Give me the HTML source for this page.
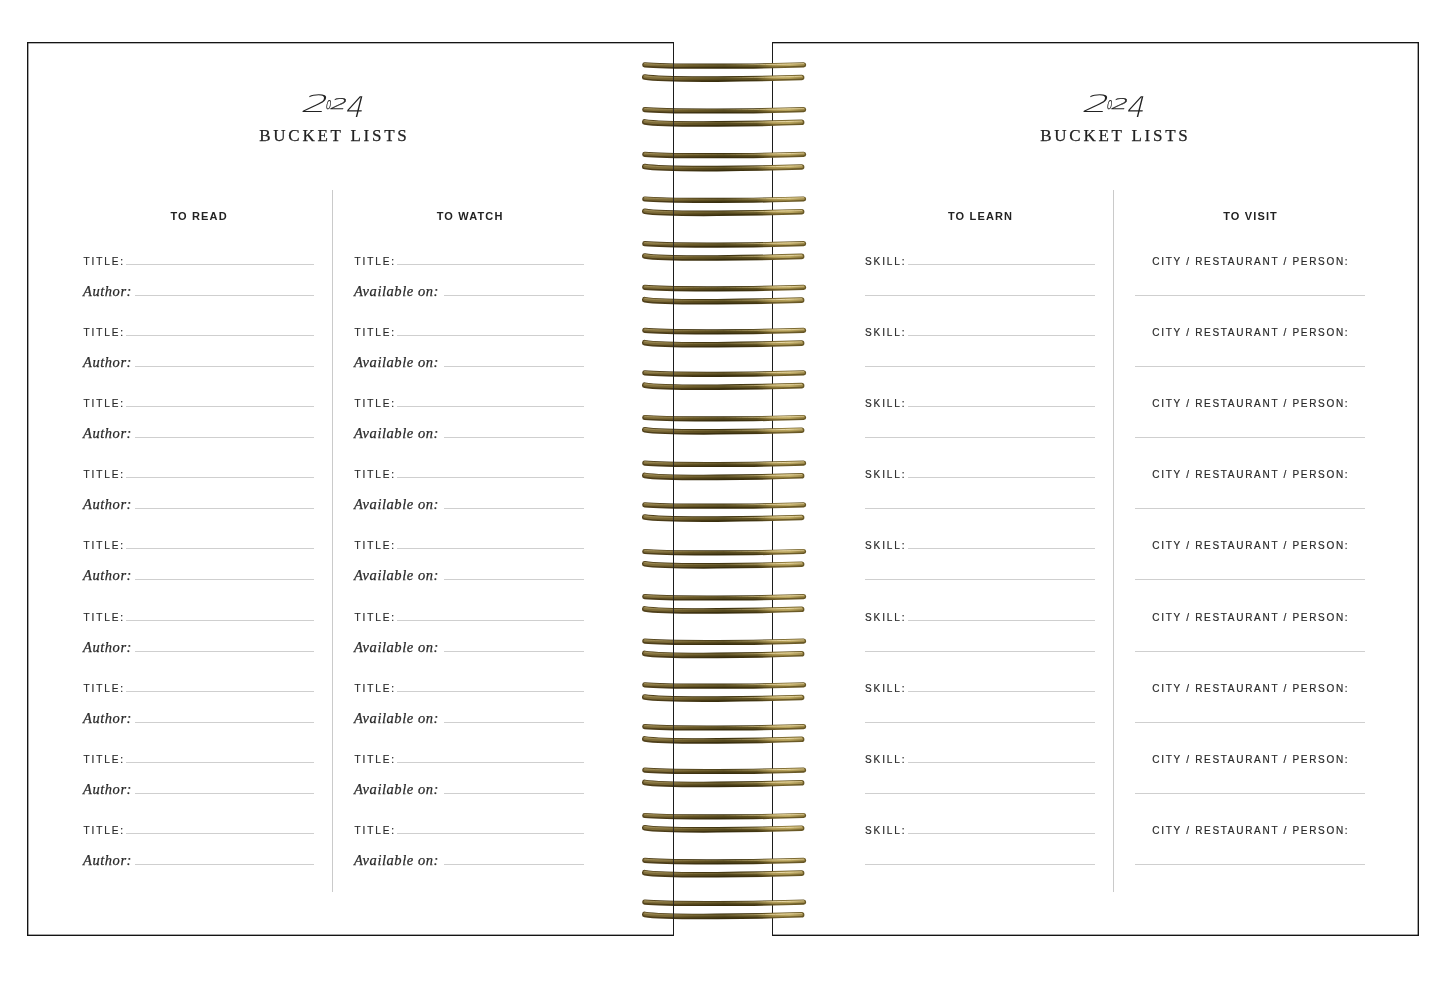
<!DOCTYPE html>
<html><head><meta charset="utf-8"><title>2024 Bucket Lists</title>
<style>
html,body{margin:0;padding:0;background:#fff;}
body{width:1445px;height:1006px;position:relative;overflow:hidden;}
.page{position:absolute;top:42px;width:645px;height:892px;border:1px solid #141414;box-sizing:content-box;}
.rings{position:absolute;left:0;top:0;}
.vl{position:absolute;width:1px;background:#1c1c1c;}
.yr{position:absolute;left:0;top:0;}
.yg{position:absolute;display:block;font-family:"DejaVu Sans",sans-serif;font-weight:200;line-height:1;color:#222;transform-origin:0 0;white-space:nowrap;}
.bl{position:absolute;top:124px;width:200px;text-align:center;font-family:"Liberation Serif",serif;font-size:17px;line-height:24px;color:#222;-webkit-text-stroke:0.25px #222;letter-spacing:2.75px;text-indent:2.75px;}
.ch{position:absolute;top:208px;width:200px;text-align:center;font-family:"Liberation Sans",sans-serif;font-weight:bold;font-size:11px;line-height:16px;color:#222;letter-spacing:1.15px;text-indent:1.15px;}
.lb{position:absolute;font-family:"Liberation Sans",sans-serif;font-size:10px;line-height:14px;color:#2a2a2a;-webkit-text-stroke:0.2px #2a2a2a;letter-spacing:1.9px;white-space:nowrap;}
.lb.c{width:300px;text-align:center;text-indent:1.7px;letter-spacing:1.7px;}
.it{position:absolute;font-family:"Liberation Serif",serif;font-style:italic;font-size:14.5px;line-height:18px;color:#2a2a2a;letter-spacing:0.55px;-webkit-text-stroke:0.25px #2a2a2a;white-space:nowrap;}
.ln{position:absolute;height:1px;background:#cfcfcf;}
.dv{position:absolute;top:190px;height:702px;width:1px;background:#cacaca;}
</style></head>
<body>
<div class="page" style="left:27px;box-shadow:inset 1px 0 0 rgba(0,0,0,.35),inset 0 1px 0 rgba(0,0,0,.3),inset 0 -1px 0 rgba(0,0,0,.35)"></div>
<div class="page" style="left:772px;box-shadow:inset -1px 0 0 rgba(0,0,0,.35),inset 0 1px 0 rgba(0,0,0,.3),inset 0 -1px 0 rgba(0,0,0,.35)"></div>
<div class="yr"><span class="yg" style="left:308.0px;top:92.0px;font-size:24px;transform:scale(1.714,1.0) skewX(-14deg)">2</span><span class="yg" style="left:327.4px;top:98.6px;font-size:12px;transform:scale(0.7,0.98) skewX(-14deg);-webkit-text-stroke:0.35px #222">0</span><span class="yg" style="left:334.3px;top:96.8px;font-size:15px;transform:scale(1.75,0.98) skewX(-14deg);-webkit-text-stroke:0.3px #222">2</span><span class="yg" style="left:350.4px;top:93.8px;font-size:22px;transform:scale(1.3,1.3) skewX(-14deg)">4</span></div>
<div class="bl" style="left:233px">BUCKET LISTS</div>
<div class="yr"><span class="yg" style="left:1089.0px;top:92.0px;font-size:24px;transform:scale(1.714,1.0) skewX(-14deg)">2</span><span class="yg" style="left:1108.4px;top:98.6px;font-size:12px;transform:scale(0.7,0.98) skewX(-14deg);-webkit-text-stroke:0.35px #222">0</span><span class="yg" style="left:1115.3px;top:96.8px;font-size:15px;transform:scale(1.75,0.98) skewX(-14deg);-webkit-text-stroke:0.3px #222">2</span><span class="yg" style="left:1131.4px;top:93.8px;font-size:22px;transform:scale(1.3,1.3) skewX(-14deg)">4</span></div>
<div class="bl" style="left:1014px">BUCKET LISTS</div>
<div class="dv" style="left:332px"></div>
<div class="dv" style="left:1113px"></div>
<div class="ch" style="left:98.5px">TO READ</div>
<div class="ch" style="left:369.5px">TO WATCH</div>
<div class="ch" style="left:880px">TO LEARN</div>
<div class="ch" style="left:1150px">TO VISIT</div>
<div class="lb" style="left:83.5px;top:255.0px">TITLE:</div>
<div class="ln" style="left:126px;top:264.0px;width:188px"></div>
<div class="it" style="left:83.0px;top:282.0px">Author:</div>
<div class="ln" style="left:135px;top:295.0px;width:179px"></div>
<div class="lb" style="left:83.5px;top:326.1px">TITLE:</div>
<div class="ln" style="left:126px;top:335.1px;width:188px"></div>
<div class="it" style="left:83.0px;top:353.1px">Author:</div>
<div class="ln" style="left:135px;top:366.1px;width:179px"></div>
<div class="lb" style="left:83.5px;top:397.2px">TITLE:</div>
<div class="ln" style="left:126px;top:406.2px;width:188px"></div>
<div class="it" style="left:83.0px;top:424.2px">Author:</div>
<div class="ln" style="left:135px;top:437.2px;width:179px"></div>
<div class="lb" style="left:83.5px;top:468.3px">TITLE:</div>
<div class="ln" style="left:126px;top:477.3px;width:188px"></div>
<div class="it" style="left:83.0px;top:495.3px">Author:</div>
<div class="ln" style="left:135px;top:508.3px;width:179px"></div>
<div class="lb" style="left:83.5px;top:539.4px">TITLE:</div>
<div class="ln" style="left:126px;top:548.4px;width:188px"></div>
<div class="it" style="left:83.0px;top:566.4px">Author:</div>
<div class="ln" style="left:135px;top:579.4px;width:179px"></div>
<div class="lb" style="left:83.5px;top:610.5px">TITLE:</div>
<div class="ln" style="left:126px;top:619.5px;width:188px"></div>
<div class="it" style="left:83.0px;top:637.5px">Author:</div>
<div class="ln" style="left:135px;top:650.5px;width:179px"></div>
<div class="lb" style="left:83.5px;top:681.6px">TITLE:</div>
<div class="ln" style="left:126px;top:690.6px;width:188px"></div>
<div class="it" style="left:83.0px;top:708.6px">Author:</div>
<div class="ln" style="left:135px;top:721.6px;width:179px"></div>
<div class="lb" style="left:83.5px;top:752.7px">TITLE:</div>
<div class="ln" style="left:126px;top:761.7px;width:188px"></div>
<div class="it" style="left:83.0px;top:779.7px">Author:</div>
<div class="ln" style="left:135px;top:792.7px;width:179px"></div>
<div class="lb" style="left:83.5px;top:823.8px">TITLE:</div>
<div class="ln" style="left:126px;top:832.8px;width:188px"></div>
<div class="it" style="left:83.0px;top:850.8px">Author:</div>
<div class="ln" style="left:135px;top:863.8px;width:179px"></div>
<div class="lb" style="left:354.5px;top:255.0px">TITLE:</div>
<div class="ln" style="left:397px;top:264.0px;width:187px"></div>
<div class="it" style="left:354.0px;top:282.0px">Available on:</div>
<div class="ln" style="left:444px;top:295.0px;width:140px"></div>
<div class="lb" style="left:354.5px;top:326.1px">TITLE:</div>
<div class="ln" style="left:397px;top:335.1px;width:187px"></div>
<div class="it" style="left:354.0px;top:353.1px">Available on:</div>
<div class="ln" style="left:444px;top:366.1px;width:140px"></div>
<div class="lb" style="left:354.5px;top:397.2px">TITLE:</div>
<div class="ln" style="left:397px;top:406.2px;width:187px"></div>
<div class="it" style="left:354.0px;top:424.2px">Available on:</div>
<div class="ln" style="left:444px;top:437.2px;width:140px"></div>
<div class="lb" style="left:354.5px;top:468.3px">TITLE:</div>
<div class="ln" style="left:397px;top:477.3px;width:187px"></div>
<div class="it" style="left:354.0px;top:495.3px">Available on:</div>
<div class="ln" style="left:444px;top:508.3px;width:140px"></div>
<div class="lb" style="left:354.5px;top:539.4px">TITLE:</div>
<div class="ln" style="left:397px;top:548.4px;width:187px"></div>
<div class="it" style="left:354.0px;top:566.4px">Available on:</div>
<div class="ln" style="left:444px;top:579.4px;width:140px"></div>
<div class="lb" style="left:354.5px;top:610.5px">TITLE:</div>
<div class="ln" style="left:397px;top:619.5px;width:187px"></div>
<div class="it" style="left:354.0px;top:637.5px">Available on:</div>
<div class="ln" style="left:444px;top:650.5px;width:140px"></div>
<div class="lb" style="left:354.5px;top:681.6px">TITLE:</div>
<div class="ln" style="left:397px;top:690.6px;width:187px"></div>
<div class="it" style="left:354.0px;top:708.6px">Available on:</div>
<div class="ln" style="left:444px;top:721.6px;width:140px"></div>
<div class="lb" style="left:354.5px;top:752.7px">TITLE:</div>
<div class="ln" style="left:397px;top:761.7px;width:187px"></div>
<div class="it" style="left:354.0px;top:779.7px">Available on:</div>
<div class="ln" style="left:444px;top:792.7px;width:140px"></div>
<div class="lb" style="left:354.5px;top:823.8px">TITLE:</div>
<div class="ln" style="left:397px;top:832.8px;width:187px"></div>
<div class="it" style="left:354.0px;top:850.8px">Available on:</div>
<div class="ln" style="left:444px;top:863.8px;width:140px"></div>
<div class="lb" style="left:865px;top:255.0px">SKILL:</div>
<div class="ln" style="left:908px;top:264.0px;width:186.5px"></div>
<div class="ln" style="left:865px;top:295.0px;width:229.5px"></div>
<div class="lb" style="left:865px;top:326.1px">SKILL:</div>
<div class="ln" style="left:908px;top:335.1px;width:186.5px"></div>
<div class="ln" style="left:865px;top:366.1px;width:229.5px"></div>
<div class="lb" style="left:865px;top:397.2px">SKILL:</div>
<div class="ln" style="left:908px;top:406.2px;width:186.5px"></div>
<div class="ln" style="left:865px;top:437.2px;width:229.5px"></div>
<div class="lb" style="left:865px;top:468.3px">SKILL:</div>
<div class="ln" style="left:908px;top:477.3px;width:186.5px"></div>
<div class="ln" style="left:865px;top:508.3px;width:229.5px"></div>
<div class="lb" style="left:865px;top:539.4px">SKILL:</div>
<div class="ln" style="left:908px;top:548.4px;width:186.5px"></div>
<div class="ln" style="left:865px;top:579.4px;width:229.5px"></div>
<div class="lb" style="left:865px;top:610.5px">SKILL:</div>
<div class="ln" style="left:908px;top:619.5px;width:186.5px"></div>
<div class="ln" style="left:865px;top:650.5px;width:229.5px"></div>
<div class="lb" style="left:865px;top:681.6px">SKILL:</div>
<div class="ln" style="left:908px;top:690.6px;width:186.5px"></div>
<div class="ln" style="left:865px;top:721.6px;width:229.5px"></div>
<div class="lb" style="left:865px;top:752.7px">SKILL:</div>
<div class="ln" style="left:908px;top:761.7px;width:186.5px"></div>
<div class="ln" style="left:865px;top:792.7px;width:229.5px"></div>
<div class="lb" style="left:865px;top:823.8px">SKILL:</div>
<div class="ln" style="left:908px;top:832.8px;width:186.5px"></div>
<div class="ln" style="left:865px;top:863.8px;width:229.5px"></div>
<div class="lb c" style="left:1100px;top:255.0px">CITY / RESTAURANT / PERSON:</div>
<div class="ln" style="left:1135px;top:295.0px;width:229.5px"></div>
<div class="lb c" style="left:1100px;top:326.1px">CITY / RESTAURANT / PERSON:</div>
<div class="ln" style="left:1135px;top:366.1px;width:229.5px"></div>
<div class="lb c" style="left:1100px;top:397.2px">CITY / RESTAURANT / PERSON:</div>
<div class="ln" style="left:1135px;top:437.2px;width:229.5px"></div>
<div class="lb c" style="left:1100px;top:468.3px">CITY / RESTAURANT / PERSON:</div>
<div class="ln" style="left:1135px;top:508.3px;width:229.5px"></div>
<div class="lb c" style="left:1100px;top:539.4px">CITY / RESTAURANT / PERSON:</div>
<div class="ln" style="left:1135px;top:579.4px;width:229.5px"></div>
<div class="lb c" style="left:1100px;top:610.5px">CITY / RESTAURANT / PERSON:</div>
<div class="ln" style="left:1135px;top:650.5px;width:229.5px"></div>
<div class="lb c" style="left:1100px;top:681.6px">CITY / RESTAURANT / PERSON:</div>
<div class="ln" style="left:1135px;top:721.6px;width:229.5px"></div>
<div class="lb c" style="left:1100px;top:752.7px">CITY / RESTAURANT / PERSON:</div>
<div class="ln" style="left:1135px;top:792.7px;width:229.5px"></div>
<div class="lb c" style="left:1100px;top:823.8px">CITY / RESTAURANT / PERSON:</div>
<div class="ln" style="left:1135px;top:863.8px;width:229.5px"></div>
<div class="vl" style="left:772px;top:42px;height:894px"></div>
<svg class="rings" width="1445" height="1006" viewBox="0 0 1445 1006">
<defs>
<linearGradient id="gd" x1="642" y1="0" x2="806" y2="0" gradientUnits="userSpaceOnUse">
<stop offset="0" stop-color="#52421c"/>
<stop offset="0.2" stop-color="#463816"/>
<stop offset="0.5" stop-color="#362c0c"/>
<stop offset="0.7" stop-color="#423612"/>
<stop offset="0.82" stop-color="#72602c"/>
<stop offset="1" stop-color="#665624"/>
</linearGradient>
<linearGradient id="gm" x1="642" y1="0" x2="806" y2="0" gradientUnits="userSpaceOnUse">
<stop offset="0" stop-color="#82703c"/>
<stop offset="0.18" stop-color="#766432"/>
<stop offset="0.3" stop-color="#625222"/>
<stop offset="0.5" stop-color="#52461c"/>
<stop offset="0.7" stop-color="#625422"/>
<stop offset="0.8" stop-color="#a8924c"/>
<stop offset="0.9" stop-color="#bca860"/>
<stop offset="1" stop-color="#968244"/>
</linearGradient>
<linearGradient id="gh" x1="642" y1="0" x2="806" y2="0" gradientUnits="userSpaceOnUse">
<stop offset="0" stop-color="#b09e68"/>
<stop offset="0.2" stop-color="#92804c"/>
<stop offset="0.5" stop-color="#726434"/>
<stop offset="0.75" stop-color="#e0ce94"/>
<stop offset="0.85" stop-color="#f8eac0"/>
<stop offset="1" stop-color="#d7c48c"/>
</linearGradient>
</defs>

<path d="M644.8,64.8 C665,67.0 765,66.3 803.6,64.8" stroke="url(#gd)" stroke-width="5.2" fill="none" stroke-linecap="round"/>
<path d="M644.8,64.8 C665,67.0 765,66.3 803.6,64.8" transform="translate(0,-0.5)" stroke="url(#gm)" stroke-width="2.8" fill="none" stroke-linecap="round"/>
<path d="M644.8,64.8 C665,67.0 765,66.3 803.6,64.8" transform="translate(0,-1.2)" stroke="url(#gh)" stroke-width="0.9" fill="none" stroke-linecap="round" opacity="0.85"/>
<path d="M644.8,77.1 C665,80.6 765,78.8 801.6,77.5" stroke="url(#gd)" stroke-width="5.6" fill="none" stroke-linecap="round"/>
<path d="M644.8,77.1 C665,80.6 765,78.8 801.6,77.5" transform="translate(0,-0.5)" stroke="url(#gm)" stroke-width="3.2" fill="none" stroke-linecap="round"/>
<path d="M644.8,77.1 C665,80.6 765,78.8 801.6,77.5" transform="translate(0,-1.2)" stroke="url(#gh)" stroke-width="0.9" fill="none" stroke-linecap="round" opacity="0.85"/>
<path d="M644.8,109.6 C665,111.8 765,111.1 803.6,109.6" stroke="url(#gd)" stroke-width="5.2" fill="none" stroke-linecap="round"/>
<path d="M644.8,109.6 C665,111.8 765,111.1 803.6,109.6" transform="translate(0,-0.5)" stroke="url(#gm)" stroke-width="2.8" fill="none" stroke-linecap="round"/>
<path d="M644.8,109.6 C665,111.8 765,111.1 803.6,109.6" transform="translate(0,-1.2)" stroke="url(#gh)" stroke-width="0.9" fill="none" stroke-linecap="round" opacity="0.85"/>
<path d="M644.8,121.9 C665,125.4 765,123.6 801.6,122.3" stroke="url(#gd)" stroke-width="5.6" fill="none" stroke-linecap="round"/>
<path d="M644.8,121.9 C665,125.4 765,123.6 801.6,122.3" transform="translate(0,-0.5)" stroke="url(#gm)" stroke-width="3.2" fill="none" stroke-linecap="round"/>
<path d="M644.8,121.9 C665,125.4 765,123.6 801.6,122.3" transform="translate(0,-1.2)" stroke="url(#gh)" stroke-width="0.9" fill="none" stroke-linecap="round" opacity="0.85"/>
<path d="M644.8,154.3 C665,156.5 765,155.8 803.6,154.3" stroke="url(#gd)" stroke-width="5.2" fill="none" stroke-linecap="round"/>
<path d="M644.8,154.3 C665,156.5 765,155.8 803.6,154.3" transform="translate(0,-0.5)" stroke="url(#gm)" stroke-width="2.8" fill="none" stroke-linecap="round"/>
<path d="M644.8,154.3 C665,156.5 765,155.8 803.6,154.3" transform="translate(0,-1.2)" stroke="url(#gh)" stroke-width="0.9" fill="none" stroke-linecap="round" opacity="0.85"/>
<path d="M644.8,166.6 C665,170.1 765,168.3 801.6,167.0" stroke="url(#gd)" stroke-width="5.6" fill="none" stroke-linecap="round"/>
<path d="M644.8,166.6 C665,170.1 765,168.3 801.6,167.0" transform="translate(0,-0.5)" stroke="url(#gm)" stroke-width="3.2" fill="none" stroke-linecap="round"/>
<path d="M644.8,166.6 C665,170.1 765,168.3 801.6,167.0" transform="translate(0,-1.2)" stroke="url(#gh)" stroke-width="0.9" fill="none" stroke-linecap="round" opacity="0.85"/>
<path d="M644.8,199.0 C665,201.2 765,200.5 803.6,199.0" stroke="url(#gd)" stroke-width="5.2" fill="none" stroke-linecap="round"/>
<path d="M644.8,199.0 C665,201.2 765,200.5 803.6,199.0" transform="translate(0,-0.5)" stroke="url(#gm)" stroke-width="2.8" fill="none" stroke-linecap="round"/>
<path d="M644.8,199.0 C665,201.2 765,200.5 803.6,199.0" transform="translate(0,-1.2)" stroke="url(#gh)" stroke-width="0.9" fill="none" stroke-linecap="round" opacity="0.85"/>
<path d="M644.8,211.3 C665,214.8 765,213.0 801.6,211.7" stroke="url(#gd)" stroke-width="5.6" fill="none" stroke-linecap="round"/>
<path d="M644.8,211.3 C665,214.8 765,213.0 801.6,211.7" transform="translate(0,-0.5)" stroke="url(#gm)" stroke-width="3.2" fill="none" stroke-linecap="round"/>
<path d="M644.8,211.3 C665,214.8 765,213.0 801.6,211.7" transform="translate(0,-1.2)" stroke="url(#gh)" stroke-width="0.9" fill="none" stroke-linecap="round" opacity="0.85"/>
<path d="M644.8,243.7 C665,245.9 765,245.2 803.6,243.7" stroke="url(#gd)" stroke-width="5.2" fill="none" stroke-linecap="round"/>
<path d="M644.8,243.7 C665,245.9 765,245.2 803.6,243.7" transform="translate(0,-0.5)" stroke="url(#gm)" stroke-width="2.8" fill="none" stroke-linecap="round"/>
<path d="M644.8,243.7 C665,245.9 765,245.2 803.6,243.7" transform="translate(0,-1.2)" stroke="url(#gh)" stroke-width="0.9" fill="none" stroke-linecap="round" opacity="0.85"/>
<path d="M644.8,256.0 C665,259.5 765,257.7 801.6,256.4" stroke="url(#gd)" stroke-width="5.6" fill="none" stroke-linecap="round"/>
<path d="M644.8,256.0 C665,259.5 765,257.7 801.6,256.4" transform="translate(0,-0.5)" stroke="url(#gm)" stroke-width="3.2" fill="none" stroke-linecap="round"/>
<path d="M644.8,256.0 C665,259.5 765,257.7 801.6,256.4" transform="translate(0,-1.2)" stroke="url(#gh)" stroke-width="0.9" fill="none" stroke-linecap="round" opacity="0.85"/>
<path d="M644.8,287.4 C665,289.6 765,288.9 803.6,287.4" stroke="url(#gd)" stroke-width="5.2" fill="none" stroke-linecap="round"/>
<path d="M644.8,287.4 C665,289.6 765,288.9 803.6,287.4" transform="translate(0,-0.5)" stroke="url(#gm)" stroke-width="2.8" fill="none" stroke-linecap="round"/>
<path d="M644.8,287.4 C665,289.6 765,288.9 803.6,287.4" transform="translate(0,-1.2)" stroke="url(#gh)" stroke-width="0.9" fill="none" stroke-linecap="round" opacity="0.85"/>
<path d="M644.8,299.7 C665,303.2 765,301.4 801.6,300.1" stroke="url(#gd)" stroke-width="5.6" fill="none" stroke-linecap="round"/>
<path d="M644.8,299.7 C665,303.2 765,301.4 801.6,300.1" transform="translate(0,-0.5)" stroke="url(#gm)" stroke-width="3.2" fill="none" stroke-linecap="round"/>
<path d="M644.8,299.7 C665,303.2 765,301.4 801.6,300.1" transform="translate(0,-1.2)" stroke="url(#gh)" stroke-width="0.9" fill="none" stroke-linecap="round" opacity="0.85"/>
<path d="M644.8,330.4 C665,332.6 765,331.9 803.6,330.4" stroke="url(#gd)" stroke-width="5.2" fill="none" stroke-linecap="round"/>
<path d="M644.8,330.4 C665,332.6 765,331.9 803.6,330.4" transform="translate(0,-0.5)" stroke="url(#gm)" stroke-width="2.8" fill="none" stroke-linecap="round"/>
<path d="M644.8,330.4 C665,332.6 765,331.9 803.6,330.4" transform="translate(0,-1.2)" stroke="url(#gh)" stroke-width="0.9" fill="none" stroke-linecap="round" opacity="0.85"/>
<path d="M644.8,342.7 C665,346.2 765,344.4 801.6,343.1" stroke="url(#gd)" stroke-width="5.6" fill="none" stroke-linecap="round"/>
<path d="M644.8,342.7 C665,346.2 765,344.4 801.6,343.1" transform="translate(0,-0.5)" stroke="url(#gm)" stroke-width="3.2" fill="none" stroke-linecap="round"/>
<path d="M644.8,342.7 C665,346.2 765,344.4 801.6,343.1" transform="translate(0,-1.2)" stroke="url(#gh)" stroke-width="0.9" fill="none" stroke-linecap="round" opacity="0.85"/>
<path d="M644.8,372.9 C665,375.1 765,374.4 803.6,372.9" stroke="url(#gd)" stroke-width="5.2" fill="none" stroke-linecap="round"/>
<path d="M644.8,372.9 C665,375.1 765,374.4 803.6,372.9" transform="translate(0,-0.5)" stroke="url(#gm)" stroke-width="2.8" fill="none" stroke-linecap="round"/>
<path d="M644.8,372.9 C665,375.1 765,374.4 803.6,372.9" transform="translate(0,-1.2)" stroke="url(#gh)" stroke-width="0.9" fill="none" stroke-linecap="round" opacity="0.85"/>
<path d="M644.8,385.2 C665,388.7 765,386.9 801.6,385.6" stroke="url(#gd)" stroke-width="5.6" fill="none" stroke-linecap="round"/>
<path d="M644.8,385.2 C665,388.7 765,386.9 801.6,385.6" transform="translate(0,-0.5)" stroke="url(#gm)" stroke-width="3.2" fill="none" stroke-linecap="round"/>
<path d="M644.8,385.2 C665,388.7 765,386.9 801.6,385.6" transform="translate(0,-1.2)" stroke="url(#gh)" stroke-width="0.9" fill="none" stroke-linecap="round" opacity="0.85"/>
<path d="M644.8,417.5 C665,419.7 765,419.0 803.6,417.5" stroke="url(#gd)" stroke-width="5.2" fill="none" stroke-linecap="round"/>
<path d="M644.8,417.5 C665,419.7 765,419.0 803.6,417.5" transform="translate(0,-0.5)" stroke="url(#gm)" stroke-width="2.8" fill="none" stroke-linecap="round"/>
<path d="M644.8,417.5 C665,419.7 765,419.0 803.6,417.5" transform="translate(0,-1.2)" stroke="url(#gh)" stroke-width="0.9" fill="none" stroke-linecap="round" opacity="0.85"/>
<path d="M644.8,429.8 C665,433.3 765,431.5 801.6,430.2" stroke="url(#gd)" stroke-width="5.6" fill="none" stroke-linecap="round"/>
<path d="M644.8,429.8 C665,433.3 765,431.5 801.6,430.2" transform="translate(0,-0.5)" stroke="url(#gm)" stroke-width="3.2" fill="none" stroke-linecap="round"/>
<path d="M644.8,429.8 C665,433.3 765,431.5 801.6,430.2" transform="translate(0,-1.2)" stroke="url(#gh)" stroke-width="0.9" fill="none" stroke-linecap="round" opacity="0.85"/>
<path d="M644.8,463.1 C665,465.3 765,464.6 803.6,463.1" stroke="url(#gd)" stroke-width="5.2" fill="none" stroke-linecap="round"/>
<path d="M644.8,463.1 C665,465.3 765,464.6 803.6,463.1" transform="translate(0,-0.5)" stroke="url(#gm)" stroke-width="2.8" fill="none" stroke-linecap="round"/>
<path d="M644.8,463.1 C665,465.3 765,464.6 803.6,463.1" transform="translate(0,-1.2)" stroke="url(#gh)" stroke-width="0.9" fill="none" stroke-linecap="round" opacity="0.85"/>
<path d="M644.8,475.4 C665,478.9 765,477.1 801.6,475.8" stroke="url(#gd)" stroke-width="5.6" fill="none" stroke-linecap="round"/>
<path d="M644.8,475.4 C665,478.9 765,477.1 801.6,475.8" transform="translate(0,-0.5)" stroke="url(#gm)" stroke-width="3.2" fill="none" stroke-linecap="round"/>
<path d="M644.8,475.4 C665,478.9 765,477.1 801.6,475.8" transform="translate(0,-1.2)" stroke="url(#gh)" stroke-width="0.9" fill="none" stroke-linecap="round" opacity="0.85"/>
<path d="M644.8,504.8 C665,507.0 765,506.3 803.6,504.8" stroke="url(#gd)" stroke-width="5.2" fill="none" stroke-linecap="round"/>
<path d="M644.8,504.8 C665,507.0 765,506.3 803.6,504.8" transform="translate(0,-0.5)" stroke="url(#gm)" stroke-width="2.8" fill="none" stroke-linecap="round"/>
<path d="M644.8,504.8 C665,507.0 765,506.3 803.6,504.8" transform="translate(0,-1.2)" stroke="url(#gh)" stroke-width="0.9" fill="none" stroke-linecap="round" opacity="0.85"/>
<path d="M644.8,517.1 C665,520.6 765,518.8 801.6,517.5" stroke="url(#gd)" stroke-width="5.6" fill="none" stroke-linecap="round"/>
<path d="M644.8,517.1 C665,520.6 765,518.8 801.6,517.5" transform="translate(0,-0.5)" stroke="url(#gm)" stroke-width="3.2" fill="none" stroke-linecap="round"/>
<path d="M644.8,517.1 C665,520.6 765,518.8 801.6,517.5" transform="translate(0,-1.2)" stroke="url(#gh)" stroke-width="0.9" fill="none" stroke-linecap="round" opacity="0.85"/>
<path d="M644.8,551.5 C665,553.7 765,553.0 803.6,551.5" stroke="url(#gd)" stroke-width="5.2" fill="none" stroke-linecap="round"/>
<path d="M644.8,551.5 C665,553.7 765,553.0 803.6,551.5" transform="translate(0,-0.5)" stroke="url(#gm)" stroke-width="2.8" fill="none" stroke-linecap="round"/>
<path d="M644.8,551.5 C665,553.7 765,553.0 803.6,551.5" transform="translate(0,-1.2)" stroke="url(#gh)" stroke-width="0.9" fill="none" stroke-linecap="round" opacity="0.85"/>
<path d="M644.8,563.8 C665,567.3 765,565.5 801.6,564.2" stroke="url(#gd)" stroke-width="5.6" fill="none" stroke-linecap="round"/>
<path d="M644.8,563.8 C665,567.3 765,565.5 801.6,564.2" transform="translate(0,-0.5)" stroke="url(#gm)" stroke-width="3.2" fill="none" stroke-linecap="round"/>
<path d="M644.8,563.8 C665,567.3 765,565.5 801.6,564.2" transform="translate(0,-1.2)" stroke="url(#gh)" stroke-width="0.9" fill="none" stroke-linecap="round" opacity="0.85"/>
<path d="M644.8,596.6 C665,598.8 765,598.1 803.6,596.6" stroke="url(#gd)" stroke-width="5.2" fill="none" stroke-linecap="round"/>
<path d="M644.8,596.6 C665,598.8 765,598.1 803.6,596.6" transform="translate(0,-0.5)" stroke="url(#gm)" stroke-width="2.8" fill="none" stroke-linecap="round"/>
<path d="M644.8,596.6 C665,598.8 765,598.1 803.6,596.6" transform="translate(0,-1.2)" stroke="url(#gh)" stroke-width="0.9" fill="none" stroke-linecap="round" opacity="0.85"/>
<path d="M644.8,608.9 C665,612.4 765,610.6 801.6,609.3" stroke="url(#gd)" stroke-width="5.6" fill="none" stroke-linecap="round"/>
<path d="M644.8,608.9 C665,612.4 765,610.6 801.6,609.3" transform="translate(0,-0.5)" stroke="url(#gm)" stroke-width="3.2" fill="none" stroke-linecap="round"/>
<path d="M644.8,608.9 C665,612.4 765,610.6 801.6,609.3" transform="translate(0,-1.2)" stroke="url(#gh)" stroke-width="0.9" fill="none" stroke-linecap="round" opacity="0.85"/>
<path d="M644.8,641.1 C665,643.3 765,642.6 803.6,641.1" stroke="url(#gd)" stroke-width="5.2" fill="none" stroke-linecap="round"/>
<path d="M644.8,641.1 C665,643.3 765,642.6 803.6,641.1" transform="translate(0,-0.5)" stroke="url(#gm)" stroke-width="2.8" fill="none" stroke-linecap="round"/>
<path d="M644.8,641.1 C665,643.3 765,642.6 803.6,641.1" transform="translate(0,-1.2)" stroke="url(#gh)" stroke-width="0.9" fill="none" stroke-linecap="round" opacity="0.85"/>
<path d="M644.8,653.4 C665,656.9 765,655.1 801.6,653.8" stroke="url(#gd)" stroke-width="5.6" fill="none" stroke-linecap="round"/>
<path d="M644.8,653.4 C665,656.9 765,655.1 801.6,653.8" transform="translate(0,-0.5)" stroke="url(#gm)" stroke-width="3.2" fill="none" stroke-linecap="round"/>
<path d="M644.8,653.4 C665,656.9 765,655.1 801.6,653.8" transform="translate(0,-1.2)" stroke="url(#gh)" stroke-width="0.9" fill="none" stroke-linecap="round" opacity="0.85"/>
<path d="M644.8,684.8 C665,687.0 765,686.3 803.6,684.8" stroke="url(#gd)" stroke-width="5.2" fill="none" stroke-linecap="round"/>
<path d="M644.8,684.8 C665,687.0 765,686.3 803.6,684.8" transform="translate(0,-0.5)" stroke="url(#gm)" stroke-width="2.8" fill="none" stroke-linecap="round"/>
<path d="M644.8,684.8 C665,687.0 765,686.3 803.6,684.8" transform="translate(0,-1.2)" stroke="url(#gh)" stroke-width="0.9" fill="none" stroke-linecap="round" opacity="0.85"/>
<path d="M644.8,697.1 C665,700.6 765,698.8 801.6,697.5" stroke="url(#gd)" stroke-width="5.6" fill="none" stroke-linecap="round"/>
<path d="M644.8,697.1 C665,700.6 765,698.8 801.6,697.5" transform="translate(0,-0.5)" stroke="url(#gm)" stroke-width="3.2" fill="none" stroke-linecap="round"/>
<path d="M644.8,697.1 C665,700.6 765,698.8 801.6,697.5" transform="translate(0,-1.2)" stroke="url(#gh)" stroke-width="0.9" fill="none" stroke-linecap="round" opacity="0.85"/>
<path d="M644.8,726.6 C665,728.8 765,728.1 803.6,726.6" stroke="url(#gd)" stroke-width="5.2" fill="none" stroke-linecap="round"/>
<path d="M644.8,726.6 C665,728.8 765,728.1 803.6,726.6" transform="translate(0,-0.5)" stroke="url(#gm)" stroke-width="2.8" fill="none" stroke-linecap="round"/>
<path d="M644.8,726.6 C665,728.8 765,728.1 803.6,726.6" transform="translate(0,-1.2)" stroke="url(#gh)" stroke-width="0.9" fill="none" stroke-linecap="round" opacity="0.85"/>
<path d="M644.8,738.9 C665,742.4 765,740.6 801.6,739.3" stroke="url(#gd)" stroke-width="5.6" fill="none" stroke-linecap="round"/>
<path d="M644.8,738.9 C665,742.4 765,740.6 801.6,739.3" transform="translate(0,-0.5)" stroke="url(#gm)" stroke-width="3.2" fill="none" stroke-linecap="round"/>
<path d="M644.8,738.9 C665,742.4 765,740.6 801.6,739.3" transform="translate(0,-1.2)" stroke="url(#gh)" stroke-width="0.9" fill="none" stroke-linecap="round" opacity="0.85"/>
<path d="M644.8,770.1 C665,772.3 765,771.6 803.6,770.1" stroke="url(#gd)" stroke-width="5.2" fill="none" stroke-linecap="round"/>
<path d="M644.8,770.1 C665,772.3 765,771.6 803.6,770.1" transform="translate(0,-0.5)" stroke="url(#gm)" stroke-width="2.8" fill="none" stroke-linecap="round"/>
<path d="M644.8,770.1 C665,772.3 765,771.6 803.6,770.1" transform="translate(0,-1.2)" stroke="url(#gh)" stroke-width="0.9" fill="none" stroke-linecap="round" opacity="0.85"/>
<path d="M644.8,782.4 C665,785.9 765,784.1 801.6,782.8" stroke="url(#gd)" stroke-width="5.6" fill="none" stroke-linecap="round"/>
<path d="M644.8,782.4 C665,785.9 765,784.1 801.6,782.8" transform="translate(0,-0.5)" stroke="url(#gm)" stroke-width="3.2" fill="none" stroke-linecap="round"/>
<path d="M644.8,782.4 C665,785.9 765,784.1 801.6,782.8" transform="translate(0,-1.2)" stroke="url(#gh)" stroke-width="0.9" fill="none" stroke-linecap="round" opacity="0.85"/>
<path d="M644.8,815.5 C665,817.7 765,817.0 803.6,815.5" stroke="url(#gd)" stroke-width="5.2" fill="none" stroke-linecap="round"/>
<path d="M644.8,815.5 C665,817.7 765,817.0 803.6,815.5" transform="translate(0,-0.5)" stroke="url(#gm)" stroke-width="2.8" fill="none" stroke-linecap="round"/>
<path d="M644.8,815.5 C665,817.7 765,817.0 803.6,815.5" transform="translate(0,-1.2)" stroke="url(#gh)" stroke-width="0.9" fill="none" stroke-linecap="round" opacity="0.85"/>
<path d="M644.8,827.8 C665,831.3 765,829.5 801.6,828.2" stroke="url(#gd)" stroke-width="5.6" fill="none" stroke-linecap="round"/>
<path d="M644.8,827.8 C665,831.3 765,829.5 801.6,828.2" transform="translate(0,-0.5)" stroke="url(#gm)" stroke-width="3.2" fill="none" stroke-linecap="round"/>
<path d="M644.8,827.8 C665,831.3 765,829.5 801.6,828.2" transform="translate(0,-1.2)" stroke="url(#gh)" stroke-width="0.9" fill="none" stroke-linecap="round" opacity="0.85"/>
<path d="M644.8,860.4 C665,862.6 765,861.9 803.6,860.4" stroke="url(#gd)" stroke-width="5.2" fill="none" stroke-linecap="round"/>
<path d="M644.8,860.4 C665,862.6 765,861.9 803.6,860.4" transform="translate(0,-0.5)" stroke="url(#gm)" stroke-width="2.8" fill="none" stroke-linecap="round"/>
<path d="M644.8,860.4 C665,862.6 765,861.9 803.6,860.4" transform="translate(0,-1.2)" stroke="url(#gh)" stroke-width="0.9" fill="none" stroke-linecap="round" opacity="0.85"/>
<path d="M644.8,872.7 C665,876.2 765,874.4 801.6,873.1" stroke="url(#gd)" stroke-width="5.6" fill="none" stroke-linecap="round"/>
<path d="M644.8,872.7 C665,876.2 765,874.4 801.6,873.1" transform="translate(0,-0.5)" stroke="url(#gm)" stroke-width="3.2" fill="none" stroke-linecap="round"/>
<path d="M644.8,872.7 C665,876.2 765,874.4 801.6,873.1" transform="translate(0,-1.2)" stroke="url(#gh)" stroke-width="0.9" fill="none" stroke-linecap="round" opacity="0.85"/>
<path d="M644.8,902.1 C665,904.3 765,903.6 803.6,902.1" stroke="url(#gd)" stroke-width="5.2" fill="none" stroke-linecap="round"/>
<path d="M644.8,902.1 C665,904.3 765,903.6 803.6,902.1" transform="translate(0,-0.5)" stroke="url(#gm)" stroke-width="2.8" fill="none" stroke-linecap="round"/>
<path d="M644.8,902.1 C665,904.3 765,903.6 803.6,902.1" transform="translate(0,-1.2)" stroke="url(#gh)" stroke-width="0.9" fill="none" stroke-linecap="round" opacity="0.85"/>
<path d="M644.8,914.4 C665,917.9 765,916.1 801.6,914.8" stroke="url(#gd)" stroke-width="5.6" fill="none" stroke-linecap="round"/>
<path d="M644.8,914.4 C665,917.9 765,916.1 801.6,914.8" transform="translate(0,-0.5)" stroke="url(#gm)" stroke-width="3.2" fill="none" stroke-linecap="round"/>
<path d="M644.8,914.4 C665,917.9 765,916.1 801.6,914.8" transform="translate(0,-1.2)" stroke="url(#gh)" stroke-width="0.9" fill="none" stroke-linecap="round" opacity="0.85"/>
</svg>
<div class="vl" style="left:673px;top:42px;height:894px;opacity:.85"></div>
</body></html>
